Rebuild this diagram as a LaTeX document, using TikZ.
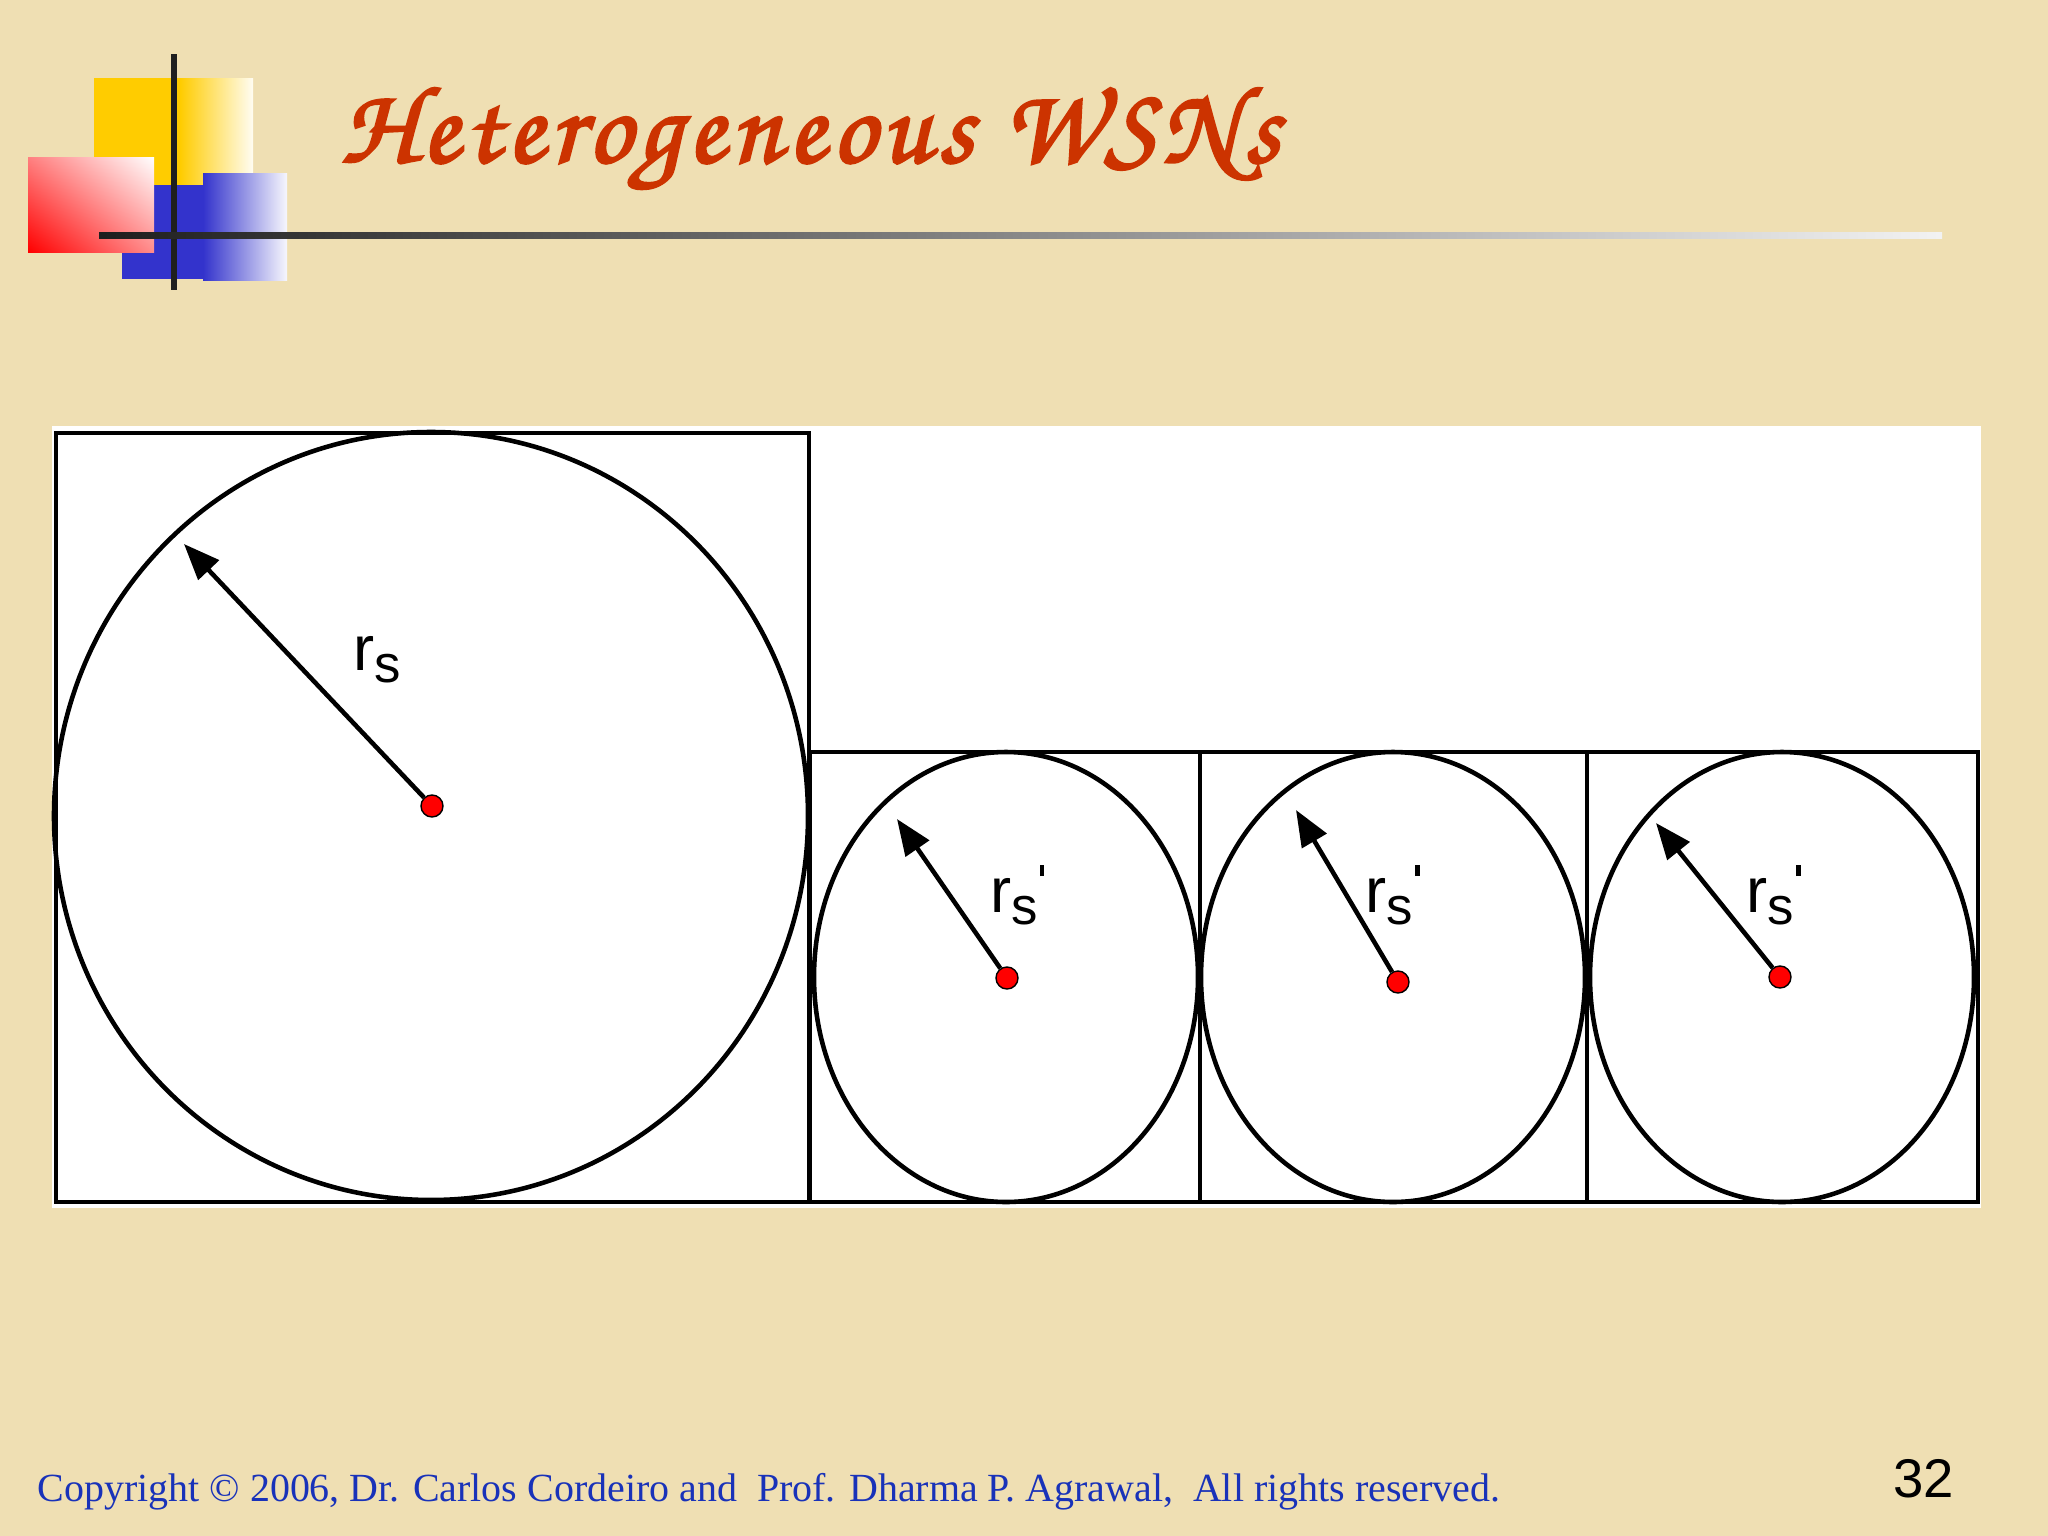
\documentclass[tikz,border=0pt]{standalone}
\usepackage{fontspec}
\setmainfont{Liberation Serif}
\newfontfamily\labelfont{Liberation Sans}
\newfontfamily\titlefont[LetterSpace=6,FakeBold=2.5]{texgyrechorus-mediumitalic.otf}
\usetikzlibrary{arrows.meta, shadings}
\definecolor{parchment}{RGB}{239,223,179}
\definecolor{titlered}{RGB}{204,51,0}
\definecolor{footblue}{RGB}{25,50,185}
\definecolor{logoyellow}{RGB}{255,204,0}
\definecolor{logoblue}{RGB}{51,51,204}
\tikzset{
    >={Triangle[length=0.36cm,width=0.28cm]},
    cell/.style={draw=black, line width=1.2pt},
    coverage/.style={draw=black, line width=1.3pt},
    sensor/.style={circle, draw=black, fill=red, line width=0.4pt, inner sep=0pt, minimum size=0.22cm},
    spoke/.style={->, line width=1.3pt},
    rlabel/.style={font=\labelfont\fontsize{18}{18}\selectfont, anchor=base west, inner sep=0pt},
}
\newcommand{\rsub}{r\raisebox{-3.6pt}{\fontsize{15}{15}\selectfont s}}
\newcommand{\rsubp}{\rsub\hspace{0.6pt}\rule[10.2pt]{1.2pt}{3.2pt}}

\begin{document}
\begin{tikzpicture}[x=0.01cm, y=-0.01cm]

\fill[parchment] (0,0) rectangle (2048,1536);
\useasboundingbox (0,0) rectangle (2048,1536);

% logo
\fill[logoyellow] (94,78) rectangle (181,185);
\shade[left color=logoyellow, right color=logoyellow!5!white] (180,78) rectangle (253,185);
\fill[logoblue] (122,185) rectangle (204,279);
\shade[left color=logoblue, right color=logoblue!4!white] (203,173) rectangle (287,280);
\shade[lower left=red, upper left=red!50!white, lower right=red!45!white, upper right=white] (28,157) rectangle (154,252);
\fill[black!88] (171,54) rectangle (177,290);
\shade[left color=black!88, middle color=black!50, right color=black!5] (99,232) rectangle (1942,238.5);

\node[anchor=base west, text=titlered, font=\titlefont\fontsize{31}{31}\selectfont, inner sep=0pt] (title) at (340,162) {Heterogeneous WSNs};

% cells
\fill[white] (52,426) rectangle (1981,1208);
\draw[cell] (56,433) rectangle (809,1202);
\draw[cell] (810,752) rectangle (1978,1202);
\draw[cell] (1200,752) -- (1200,1202);
\draw[cell] (1587,752) -- (1587,1202);

% sensing ranges
\draw[coverage] (431,816) ellipse [x radius=377, y radius=384];
\draw[coverage] (1006,977) ellipse [x radius=192, y radius=225];
\draw[coverage] (1393,977) ellipse [x radius=192, y radius=225];
\draw[coverage] (1782,977) ellipse [x radius=192, y radius=225];

\node[sensor] (s0) at (432,806) {};
\node[sensor] (s1) at (1007,978) {};
\node[sensor] (s2) at (1398,982) {};
\node[sensor] (s3) at (1780,977) {};

\coordinate (t0) at (184,544);
\coordinate (t1) at (897,819);
\coordinate (t2) at (1296,810);
\coordinate (t3) at (1656,823);

\draw[spoke] (s0) -- (t0);
\draw[spoke] (s1) -- (t1);
\draw[spoke] (s2) -- (t2);
\draw[spoke] (s3) -- (t3);

\node[rlabel] (l0) at (353,670) {\rsub};
\node[rlabel] (l1) at (990,912) {\rsubp};
\node[rlabel] (l2) at (1365,912) {\rsubp};
\node[rlabel] (l3) at (1746,912) {\rsubp};

% footer
\node[anchor=base west, text=footblue, font=\fontsize{11.36}{13}\selectfont, inner sep=0pt] (copy) at (37,1501) {Copyright © 2006, Dr. Carlos Cordeiro and\ \ Prof. Dharma P. Agrawal,\ \ All rights reserved.};
\node[anchor=base east, font=\labelfont\fontsize{15.5}{16}\selectfont, inner sep=0pt] (page) at (1955,1497) {32};

\end{tikzpicture}
\end{document}
